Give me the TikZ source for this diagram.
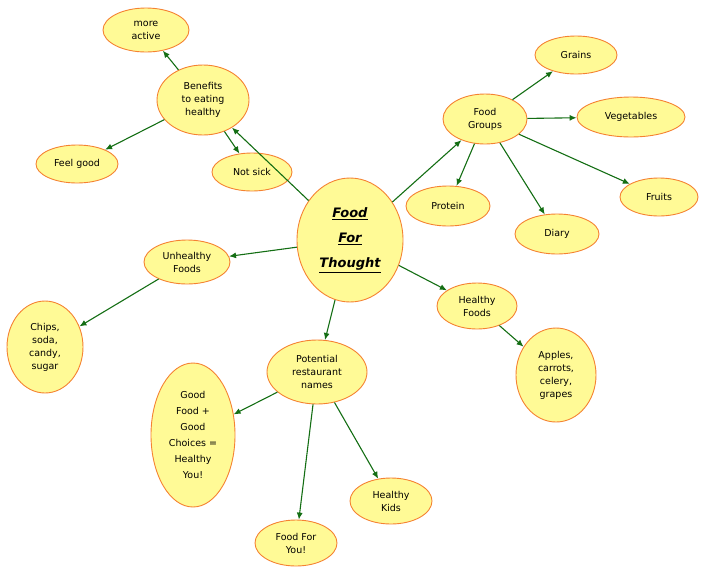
\documentclass[tikz,border=0pt]{standalone}
\usepackage{fontspec}
\setmainfont{DejaVu Sans}
\usetikzlibrary{shapes.geometric,arrows.meta}
\definecolor{bub}{RGB}{255,250,150}
\definecolor{rim}{RGB}{245,130,50}
\definecolor{arr}{RGB}{20,110,20}
\begin{document}
\begin{tikzpicture}[x=1pt,y=-1pt,
    bubble/.style={ellipse, draw=rim, fill=bub, line width=0.9pt, inner sep=0pt,
        align=center, font=\fontsize{9.5}{13}\selectfont},
    link/.style={draw=arr, line width=1.1pt, -{Latex[length=7pt,width=6pt]}}]
    \useasboundingbox (0,0) rectangle (707,574);
    % centre
    \node[bubble, minimum width=106, minimum height=124, font=\fontsize{13}{25}\selectfont\itshape\bfseries] (food) at (350,240)
        {\underline{Food}\\\underline{For}\\\underline{Thought}};
    % benefits
    \node[bubble, minimum width=92, minimum height=70] (benef) at (203,100) {Benefits\\to eating\\healthy};
    \node[bubble, minimum width=86, minimum height=44] (active) at (146,30) {more\\active};
    \node[bubble, minimum width=82, minimum height=38] (good) at (77,164) {Feel good};
    \node[bubble, minimum width=80, minimum height=38] (sick) at (252,172) {Not sick};
    % food groups
    \node[bubble, minimum width=84, minimum height=50] (groups) at (485,119) {Food\\Groups};
    \node[bubble, minimum width=82, minimum height=38] (grains) at (576,55) {Grains};
    \node[bubble, minimum width=108, minimum height=40] (veg) at (631,117) {Vegetables};
    \node[bubble, minimum width=78, minimum height=38] (fruits) at (659,197) {Fruits};
    \node[bubble, minimum width=84, minimum height=40] (protein) at (448,206) {Protein};
    \node[bubble, minimum width=84, minimum height=40] (diary) at (557,234) {Diary};
    % unhealthy
    \node[bubble, minimum width=86, minimum height=44] (unh) at (187,262) {Unhealthy\\Foods};
    \node[bubble, minimum width=76, minimum height=92] (chips) at (45,347) {Chips,\\soda,\\candy,\\sugar};
    % healthy
    \node[bubble, minimum width=80, minimum height=46] (hfoods) at (477,306) {Healthy\\Foods};
    \node[bubble, minimum width=80, minimum height=94] (apples) at (556,375) {Apples,\\carrots,\\celery,\\grapes};
    % restaurant names
    \node[bubble, minimum width=100, minimum height=64] (names) at (317,372) {Potential\\restaurant\\names};
    \node[bubble, minimum width=84, minimum height=144, font=\fontsize{9.5}{16}\selectfont] (choices) at (193,435) {Good\\Food +\\Good\\Choices =\\Healthy\\You!};
    \node[bubble, minimum width=82, minimum height=46] (kids) at (391,501) {Healthy\\Kids};
    \node[bubble, minimum width=82, minimum height=46] (you) at (296,543) {Food For\\You!};
    % connectors
    \draw[link] (food) -- (benef);
    \draw[link] (benef) -- (active);
    \draw[link] (benef) -- (good);
    \draw[link] (benef) -- (sick);
    \draw[link] (food) -- (groups);
    \draw[link] (groups) -- (grains);
    \draw[link] (groups) -- (veg);
    \draw[link] (groups) -- (fruits);
    \draw[link] (groups) -- (protein);
    \draw[link] (groups) -- (diary);
    \draw[link] (food) -- (unh);
    \draw[link] (unh) -- (chips);
    \draw[link] (food) -- (hfoods);
    \draw[link] (hfoods) -- (apples);
    \draw[link] (food) -- (names);
    \draw[link] (names) -- (choices);
    \draw[link] (names) -- (kids);
    \draw[link] (names) -- (you);
\end{tikzpicture}
\end{document}
